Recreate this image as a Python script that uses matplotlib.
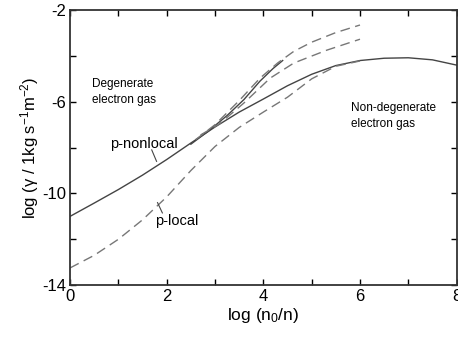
import matplotlib
matplotlib.use("Agg")
import matplotlib.pyplot as plt
from matplotlib.ticker import FixedLocator

plt.rcParams['font.family'] = ['Liberation Sans', 'DejaVu Sans']
plt.rcParams['mathtext.fontset'] = 'custom'
plt.rcParams['mathtext.rm'] = 'Liberation Sans'
plt.rcParams['mathtext.it'] = 'Liberation Sans:italic'
plt.rcParams['axes.unicode_minus'] = False

# p-nonlocal (solid)
x_nonlocal = [0, 0.5, 1, 1.5, 2, 2.5, 3, 3.5, 4, 4.5, 5, 5.5, 6, 6.5, 7, 7.5, 8]
y_nonlocal = [-11.0, -10.42, -9.83, -9.2, -8.52, -7.8, -7.1, -6.45, -5.88, -5.3,
              -4.8, -4.42, -4.2, -4.1, -4.08, -4.17, -4.4]

# p-local (dashed)
x_local = [0, 0.5, 1, 1.5, 2, 2.5, 3, 3.5, 4, 4.5, 5, 5.5, 6]
y_local = [-13.25, -12.7, -12.0, -11.15, -10.15, -9.0, -7.95, -7.12, -6.45, -5.8,
           -5.0, -4.45, -4.22]

# steep solid branch
x_branch = [2.5, 2.85, 3.25, 3.6, 3.93, 4.2, 4.4]
y_branch = [-7.85, -7.3, -6.6, -5.9, -5.1, -4.55, -4.2]

# upper dashed curves
x_upper1 = [2.6, 3.0, 3.5, 3.93, 4.3, 4.63, 5.0, 5.5, 6.0]
y_upper1 = [-7.65, -7.0, -5.95, -4.97, -4.3, -3.8, -3.4, -2.98, -2.65]
x_upper2 = [2.7, 3.1, 3.6, 4.14, 4.63, 5.31, 6.0]
y_upper2 = [-7.45, -6.95, -6.05, -4.97, -4.31, -3.75, -3.27]

x_ticks = [0, 2, 4, 6, 8]
y_ticks = [-14, -10, -6, -2]


def run():
    fig = plt.figure(figsize=(4.58, 3.37), dpi=100)
    ax = fig.add_axes([0.153, 0.154, 0.844, 0.816])

    dash = (0, (7, 4))
    ax.plot(x_nonlocal, y_nonlocal, color='#444444', lw=1.0)
    ax.plot(x_branch, y_branch, color='#444444', lw=1.0)
    ax.plot(x_local, y_local, color='#777777', lw=1.0, linestyle=dash)
    ax.plot(x_upper1, y_upper1, color='#777777', lw=1.0, linestyle=dash)
    ax.plot(x_upper2, y_upper2, color='#777777', lw=1.0, linestyle=dash)

    ax.set_xlim(0, 8)
    ax.set_ylim(-14, -2)
    ax.xaxis.set_major_locator(FixedLocator(x_ticks))
    ax.xaxis.set_minor_locator(FixedLocator([1, 3, 5, 7]))
    ax.yaxis.set_major_locator(FixedLocator(y_ticks))
    ax.yaxis.set_minor_locator(FixedLocator([-12, -8, -4]))
    ax.tick_params(which='both', direction='in', top=True, right=True,
                   labelsize=12, width=1.0, length=4, pad=3)
    for s in ax.spines.values():
        s.set_linewidth(1.3)
        s.set_color('#333333')

    ax.set_xlabel(r'log (n$_0$/n)', fontsize=12.5, labelpad=1)
    ax.set_ylabel('log (γ / 1kg s$^{-1}$m$^{-2}$)', fontsize=12, labelpad=1)

    ax.text(0.45, -4.95, 'Degenerate\nelectron gas', fontsize=8.5,
            va='top', ha='left', linespacing=1.5)
    ax.text(5.82, -6.0, 'Non-degenerate\nelectron gas', fontsize=8.5,
            va='top', ha='left', linespacing=1.5)

    ax.text(0.82, -7.85, 'p-nonlocal', fontsize=10.5, va='center', ha='left')
    ax.plot([1.69, 1.79], [-8.1, -8.6], color='#444444', lw=0.8)
    ax.text(1.75, -11.2, 'p-local', fontsize=10.5, va='center', ha='left')
    ax.plot([1.81, 1.91], [-10.4, -10.85], color='#444444', lw=0.8)

    fig.savefig("out.png", dpi=100)


if __name__ == "__main__":
    run()
